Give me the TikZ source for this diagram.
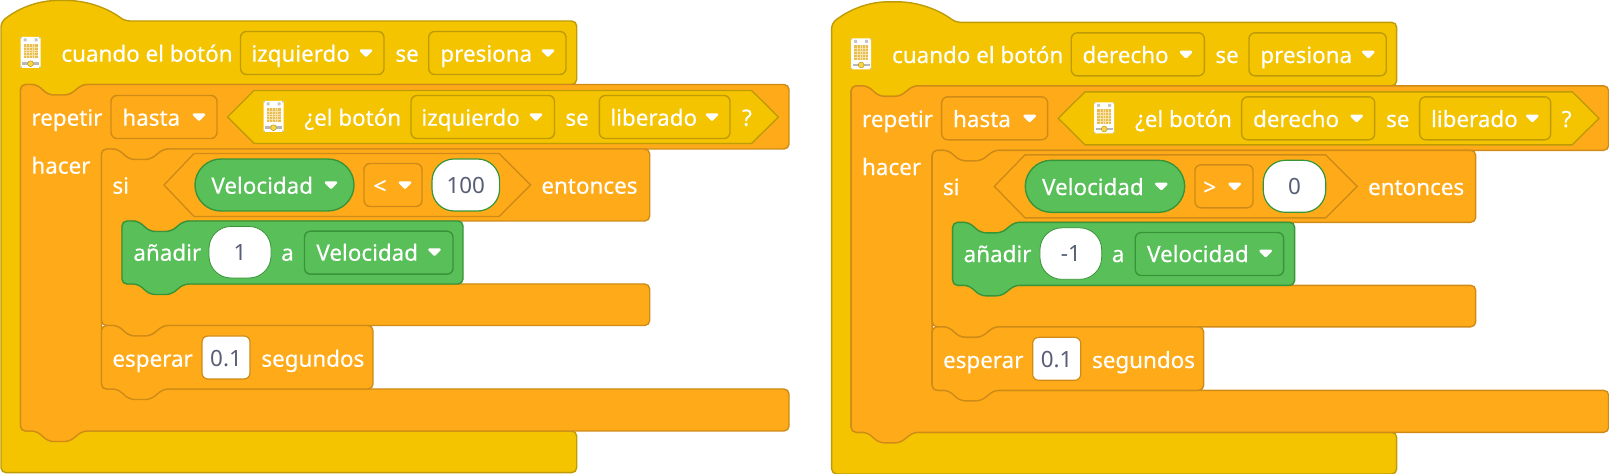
\documentclass[tikz,border=0pt]{standalone}
\usepackage{fontspec}
\setmainfont{Noto Sans}
\newfontfamily\lblfont[RawFeature={embolden=0.35}]{Noto Sans}
\definecolor{yel}{HTML}{F4C400}
\definecolor{yelb}{HTML}{BF9B07}
\definecolor{ora}{HTML}{FFAB19}
\definecolor{orab}{HTML}{CF8B17}
\definecolor{gre}{HTML}{59C059}
\definecolor{greb}{HTML}{389438}
\definecolor{val}{HTML}{575E75}
\definecolor{ledon}{HTML}{E9BC4E}
\definecolor{ledgrid}{HTML}{F6E2A8}
\tikzset{
  yblock/.style={fill=yel,draw=yelb,line width=.7pt,rounded corners=2.5pt},
  oblock/.style={fill=ora,draw=orab,line width=.7pt,rounded corners=2.5pt},
  gblock/.style={fill=gre,draw=greb,line width=.7pt,rounded corners=2.5pt},
  yfield/.style={draw=yelb,line width=.7pt,rounded corners=3pt},
  ofield/.style={draw=orab,line width=.7pt,rounded corners=3pt},
  gfield/.style={draw=greb,line width=.7pt,rounded corners=3pt},
  lab/.style={anchor=base west,inner sep=0pt,text=white,font=\lblfont\fontsize{11.2}{13}\selectfont},
  labc/.style={anchor=base,inner sep=0pt,text=white,font=\lblfont\fontsize{11.2}{13}\selectfont},
  vlab/.style={anchor=base,inner sep=0pt,text=val,font=\fontsize{11.2}{13}\selectfont},
  tri/.style={fill=white,draw=white,line width=1.3pt,line join=round},
}
% notch walking rightwards / leftwards from a block whose left edge is #1
\newcommand\nchR[2]{-- ({#1+16},#2) -- ({#1+28},{#2+10.5}) -- ({#1+49},{#2+10.5}) -- ({#1+62},#2)}
\newcommand\nchL[2]{-- ({#1+62},#2) -- ({#1+49},{#2+10.5}) -- ({#1+28},{#2+10.5}) -- ({#1+16},#2)}
% dropdown triangle at centre
\newcommand\dtri[2]{\draw[tri] ({#1-5},{#2-2.4}) -- ({#1+5},{#2-2.4}) -- (#1,{#2+2.6}) -- cycle;}
% field: style, x1, x2, cy
\newcommand\fld[4]{\draw[#1] (#2,{#4-21.5}) rectangle (#3,{#4+21.5});}
% label helpers: name, x, centre y, text
\newcommand\tx[4]{\node[lab] (#1) at (#2,{#3+8.7}) {#4};}
\newcommand\tc[4]{\node[labc] (#1) at (#2,{#3+8.7}) {#4};}
\newcommand\hexa[7]{\draw[#1,line width=.7pt,line join=miter] (#2,#7) -- (#3,{#7-#6}) -- (#4,{#7-#6}) -- (#5,#7) -- (#4,{#7+#6}) -- (#3,{#7+#6}) -- cycle;}
% micro:bit style icon, top-left x y
\newcommand\brd[2]{%
  \begin{scope}[shift={(#1,#2)}]
    \fill[white,rounded corners=.5pt] (0,0) rectangle (20,31);
    \fill[ledon] (3,7) rectangle (17,21.5);
    \foreach \k in {1,2,3,4}{\draw[ledgrid,line width=.25pt] ({3+2.8*\k},7) -- ({3+2.8*\k},21.5);
      \draw[ledgrid,line width=.25pt] (3,{7+2.9*\k}) -- (17,{7+2.9*\k});}
    \fill[gray!55] (1.5,25.5) rectangle (18.5,28);
    \fill[yel!70!white,draw=yelb,line width=.25pt] (10,26.7) circle (2.9);
    \fill[gray!45] (3,1.5) rectangle (6,4.5) (14,1.5) rectangle (17,4.5);
    \fill[gray!50] (0,0) rectangle (1.3,1.3) (18.7,0) rectangle (20,1.3) (0,29.7) rectangle (1.3,31) (18.7,29.7) rectangle (20,31);
  \end{scope}}
% bodies: yellow right, orange right, si right, green right
\newcommand\bodies[4]{%
  \draw[yblock] (1,22) .. controls (20,7) and (40,.5) .. (62,.5) .. controls (85,.5) and (106,7) .. (125,21)
     -- (#1,21) -- (#1,84.5) \nchL{20.5}{84.5} -- (20.5,84.5) -- (20.5,431) -- (#1,431) -- (#1,472.7) -- (1,472.7) -- cycle;
  \draw[oblock] (20.5,84.5) \nchR{20.5}{84.5} -- (#2,84.5) -- (#2,149) \nchL{101.5}{149} -- (101.5,149) -- (101.5,389)
     -- (#2,389) -- (#2,431) \nchL{20.5}{431} -- (20.5,431) -- cycle;
  \draw[oblock] (101.5,149) \nchR{101.5}{149} -- (#3,149) -- (#3,221) \nchL{122}{221} -- (122,221) -- (122,284)
     -- (#3,284) -- (#3,325.5) \nchL{101.5}{325.5} -- (101.5,325.5) -- cycle;
  \draw[oblock] (101.5,325.5) \nchR{101.5}{325.5} -- (373,325.5) -- (373,389) \nchL{101.5}{389} -- (101.5,389) -- cycle;
  \draw[gblock] (122,221) \nchR{122}{221} -- (#4,221) -- (#4,284) \nchL{122}{284} -- (122,284) -- cycle;
}
\begin{document}
\begin{tikzpicture}[x=.5pt,y=-.5pt]
\useasboundingbox (0,0) rectangle (1609,474);
% ---------- left program
\bodies{576.7}{789}{649.7}{463}
\brd{20.5}{37}
\tx{a1}{61}{53}{cuando el botón}
\fld{yfield}{240.5}{384}{53}
\tx{a2}{251}{53}{izquierdo}\dtri{366}{53}
\tx{a3}{395}{53}{se}
\fld{yfield}{428.7}{566}{53}
\tx{a4}{440}{53}{presiona}\dtri{548}{53}
\tx{a5}{31}{117}{repetir}
\fld{ofield}{111}{217}{117}
\tx{a6}{122}{117}{hasta}\dtri{199}{117}
\hexa{fill=yel,draw=yelb}{227.5}{254}{751.7}{778.3}{26.5}{117}
\brd{263.5}{101}
\tx{a7}{304}{117}{¿el botón}
\fld{yfield}{411}{554.5}{117}
\tx{a8}{421}{117}{izquierdo}\dtri{536}{117}
\tx{a9}{565}{117}{se}
\fld{yfield}{599.3}{730}{117}
\tx{a10}{610}{117}{liberado}\dtri{712}{117}
\tc{a11}{747}{117}{?}
\tx{a12}{31}{165}{hacer}
\tx{a13}{112}{185}{si}
\hexa{draw=orab}{164}{194}{499}{530.7}{31.5}{185}
\draw[fill=gre,draw=greb,line width=.7pt,rounded corners=13pt] (195,159) rectangle (354,211);
\tx{a14}{211}{185}{Velocidad}\dtri{331}{185}
\fld{ofield}{364}{422}{185}
\tc{a15}{380}{185}{<}\dtri{405}{185}
\draw[fill=white,draw=greb,line width=.6pt,rounded corners=11pt] (432,159) rectangle (499.6,211);
\node[vlab] (a16) at (465.8,193.5) {100};
\tx{a17}{541}{185}{entonces}
\tx{a18}{133}{252}{añadir}
\draw[fill=white,draw=greb,line width=.4pt,rounded corners=11pt] (209,226.5) rectangle (271,278);
\node[vlab] (a19) at (240,260.5) {1};
\tc{a20}{287.5}{252}{a}
\fld{gfield}{304.5}{453}{252.7}
\tx{a21}{316}{252}{Velocidad}\dtri{434.5}{252}
\tx{a22}{112}{358}{esperar}
\draw[fill=white,draw=orab,line width=.6pt,rounded corners=3pt] (202,336) rectangle (250,379);
\node[vlab] (a23) at (226,366.5) {0.1};
\tx{a24}{261}{358}{segundos}
% ---------- right program
\begin{scope}[shift={(830.67,1.33)}]
\bodies{566}{778}{645}{464}
\brd{20.5}{37}
\tx{b1}{61}{53}{cuando el botón}
\fld{yfield}{240.6}{373.7}{53}
\tx{b2}{251.5}{53}{derecho}\dtri{355.3}{53}
\tx{b3}{384.3}{53}{se}
\fld{yfield}{418.3}{555.6}{53}
\tx{b4}{429.3}{53}{presiona}\dtri{537.6}{53}
\tx{b5}{31}{117}{repetir}
\fld{ofield}{111}{217}{117}
\tx{b6}{122}{117}{hasta}\dtri{199}{117}
\hexa{fill=yel,draw=yelb}{227.6}{254.3}{741.6}{768.3}{26.5}{117}
\brd{263.5}{101}
\tx{b7}{304}{117}{¿el botón}
\fld{yfield}{411}{544}{117}
\tx{b8}{422}{117}{derecho}\dtri{526}{117}
\tx{b9}{555}{117}{se}
\fld{yfield}{589}{720}{117}
\tx{b10}{600}{117}{liberado}\dtri{701.6}{117}
\tc{b11}{736}{117}{?}
\tx{b12}{31}{165}{hacer}
\tx{b13}{112}{185}{si}
\hexa{draw=orab}{163.6}{194.3}{495}{526.6}{31.5}{185}
\draw[fill=gre,draw=greb,line width=.7pt,rounded corners=13pt] (194.6,159) rectangle (354,211);
\tx{b14}{211}{185}{Velocidad}\dtri{330.6}{185}
\fld{ofield}{364.3}{422.3}{185}
\tc{b15}{379}{185}{>}\dtri{404}{185}
\draw[fill=white,draw=greb,line width=.6pt,rounded corners=11pt] (432.6,159) rectangle (495,211);
\node[vlab] (b16) at (463.8,193.5) {0};
\tx{b17}{537}{185}{entonces}
\tx{b18}{132.6}{252}{añadir}
\draw[fill=white,draw=greb,line width=.4pt,rounded corners=11pt] (209.3,226.5) rectangle (271,278);
\node[vlab] (b19) at (240.3,260.5) {-1};
\tc{b20}{287.5}{252}{a}
\fld{gfield}{304.6}{453}{252.7}
\tx{b21}{316}{252}{Velocidad}\dtri{435}{252}
\tx{b22}{112}{358}{esperar}
\draw[fill=white,draw=orab,line width=.6pt,rounded corners=3pt] (202,336) rectangle (250,379);
\node[vlab] (b23) at (226,366.5) {0.1};
\tx{b24}{261}{358}{segundos}
\end{scope}
\end{tikzpicture}
\end{document}
